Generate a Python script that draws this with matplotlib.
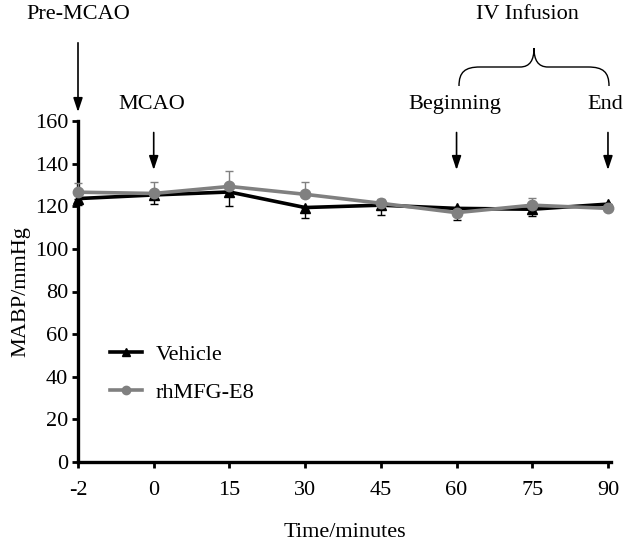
import matplotlib
matplotlib.use("Agg")
import matplotlib.pyplot as plt
from matplotlib.path import Path
from matplotlib.patches import PathPatch
from matplotlib.lines import Line2D
from matplotlib.transforms import Affine2D

plt.rcParams['font.family'] = ['Liberation Serif', 'DejaVu Serif']

categories = ["-2", "0", "15", "30", "45", "60", "75", "90"]
vehicle = [123.6, 125.3, 126.7, 119.4, 120.5, 119.0, 118.6, 121.0]
vehicle_err = [3.0, 4.3, 6.7, 4.9, 4.5, 5.4, 3.1, 1.5]
rhmfg = [126.6, 126.0, 129.3, 125.6, 121.4, 117.0, 120.5, 119.0]
rhmfg_err = [4.4, 5.4, 7.2, 5.8, 1.9, 1.0, 3.3, 1.0]
yticks = [0, 20, 40, 60, 80, 100, 120, 140, 160]

W, H = 630, 544
fig = plt.figure(figsize=(W / 100, H / 100), dpi=100)
ax = fig.add_axes([78 / W, 82 / H, 533 / W, 341 / H])

x = list(range(len(categories)))
zeros = [0] * len(x)

ax.errorbar(x, vehicle, yerr=[vehicle_err, zeros], color='black', lw=2.6,
            marker='^', markersize=7.5, ecolor='black', elinewidth=1.0,
            capsize=3, capthick=1.0, zorder=3, clip_on=False)
ax.errorbar(x, rhmfg, yerr=[zeros, rhmfg_err], color='#808080', lw=2.6,
            marker='o', markersize=7.5, ecolor='#808080', elinewidth=1.0,
            capsize=3, capthick=1.0, zorder=4, clip_on=False)

ax.set_xlim(0, 7.04)
ax.set_ylim(0, 160)
ax.set_xticks(x)
ax.set_xticklabels(categories)
ax.set_yticks(yticks)
ax.tick_params(axis='both', labelsize=16, direction='out', width=2, length=4)
ax.tick_params(axis='x', pad=10)
ax.tick_params(axis='y', pad=3)
for s in ['top', 'right']:
    ax.spines[s].set_visible(False)
for s in ['left', 'bottom']:
    ax.spines[s].set_linewidth(2.4)

ax.set_ylabel('MABP/mmHg', fontsize=16, labelpad=3)
ax.set_xlabel('Time/minutes', fontsize=16, labelpad=16)

handles = [Line2D([], [], color='black', lw=2.6, marker='^', markersize=6),
           Line2D([], [], color='#808080', lw=2.6, marker='o', markersize=6)]
ax.legend(handles, ['Vehicle', 'rhMFG-E8'], loc='upper left',
          bbox_to_anchor=(0.06, 0.345), frameon=False,
          fontsize=16, handlelength=1.45, handletextpad=0.6,
          labelspacing=0.78, borderpad=0, borderaxespad=0)

# annotations (arrows / labels) in data coords
arrow = dict(arrowstyle='-|>,head_length=0.6,head_width=0.2', color='black',
             lw=1.2, mutation_scale=14)
ax.annotate('', xy=(0, 162.9), xytext=(0, 198.0), arrowprops=arrow,
            annotation_clip=False)
ax.text(0.0, 209.9, 'Pre-MCAO', ha='center', va='center', fontsize=16, clip_on=False)

for xi, lab, xt in [(1, 'MCAO', 0.97), (5, 'Beginning', 4.98), (7, 'End', 6.96)]:
    ax.annotate('', xy=(xi, 135.7), xytext=(xi, 155.9), arrowprops=arrow,
                annotation_clip=False)
    ax.text(xt, 167.6, lab, ha='center', va='center', fontsize=16, clip_on=False)

ax.text(5.93, 209.9, 'IV Infusion', ha='center', va='center', fontsize=16, clip_on=False)

# curly brace (pixel coords from top-left)
pxt = Affine2D().scale(1 / W, -1 / H).translate(0, 1) + fig.transFigure
verts = [(459, 86), (459, 72), (465, 67), (480, 67),
         (520, 67),
         (530, 67), (534, 60), (534, 48),
         (534, 60), (538, 67), (548, 67),
         (588, 67),
         (603, 67), (609, 72), (609, 86)]
codes = [Path.MOVETO, Path.CURVE4, Path.CURVE4, Path.CURVE4,
         Path.LINETO,
         Path.CURVE4, Path.CURVE4, Path.CURVE4,
         Path.CURVE4, Path.CURVE4, Path.CURVE4,
         Path.LINETO,
         Path.CURVE4, Path.CURVE4, Path.CURVE4]
fig.patches.append(PathPatch(Path(verts, codes), transform=pxt, fill=False,
                             lw=1.0, edgecolor='black'))

fig.savefig('out.png', dpi=100)
